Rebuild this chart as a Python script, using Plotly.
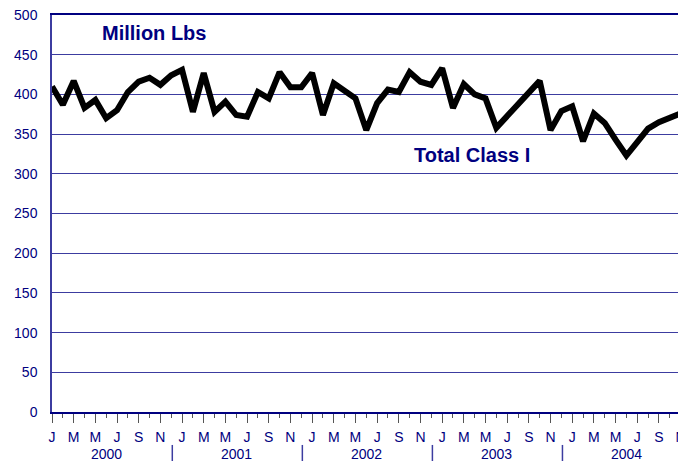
# Total Class I, million lbs, monthly 2000-2004
import plotly.graph_objects as go

years = ['2000', '2001', '2002', '2003', '2004']
month_letters = ['J', 'F', 'M', 'A', 'M', 'J', 'J', 'A', 'S', 'O', 'N', 'D']

vals_2000 = [410, 387, 417, 383, 393, 370, 380, 403, 416, 421, 412, 424]
vals_2001 = [431, 378, 427, 378, 391, 374, 372, 403, 395, 428, 409, 409]
vals_2002 = [427, 374, 414, 405, 395, 355, 389, 406, 403, 428, 416, 412]
vals_2003 = [433, 383, 413, 400, 395, 358, 373, 388, 402, 417, 355, 379]
vals_2004 = [385, 341, 376, 364, 343, 323, 340, 357, 365, 371, 376, 380]

values = vals_2000 + vals_2001 + vals_2002 + vals_2003 + vals_2004
x = list(range(len(values)))

NAVY = '#000080'
GRID = '#3c3ca0'
FONT = 'Liberation Sans, Arial, sans-serif'

# labels on every other month
tickvals = [i for i in x if i % 2 == 0]
ticktext = [month_letters[i % 12] for i in tickvals]

fig = go.Figure()
fig.add_trace(go.Scatter(
    x=x, y=values, mode='lines',
    line=dict(color='black', width=6),
    hoverinfo='y'
))

# year labels and separators under the axis
for k, yr in enumerate(years):
    fig.add_annotation(x=12 * k + 5, y=-0.106, xref='x', yref='paper',
                       yanchor='middle', text=yr, showarrow=False,
                       font=dict(size=14, color=NAVY, family=FONT))
for k in range(1, len(years)):
    fig.add_shape(type='line', xref='x', yref='paper',
                  x0=12 * k - 0.9, x1=12 * k - 0.9, y0=-0.083, y1=-0.125,
                  line=dict(color=GRID, width=1.5))

fig.add_annotation(x=0.161, y=0.955, xref='paper', yref='paper',
                   xanchor='center', yanchor='middle',
                   text='<b>Million Lbs</b>', showarrow=False,
                   font=dict(size=20, color=NAVY, family=FONT))
fig.add_annotation(x=0.662, y=0.647, xref='paper', yref='paper',
                   xanchor='center', yanchor='middle',
                   text='<b>Total Class I</b>', showarrow=False,
                   font=dict(size=20, color=NAVY, family=FONT))

# page body has an 8px margin, so the figure is a bit smaller
fig.update_layout(
    width=678, height=453,
    margin=dict(l=44, r=0, t=7, b=49),
    plot_bgcolor='white', paper_bgcolor='white',
    showlegend=False,
    font=dict(family=FONT, color=NAVY, size=14),
    xaxis=dict(
        range=[0, 58.5], automargin=False, mirror=True,
        tickmode='array', tickvals=tickvals, ticktext=ticktext,
        ticks='outside', ticklen=9, tickcolor='#555555', tickwidth=1,
        ticklabelstandoff=2,
        minor=dict(tickmode='array', tickvals=[i for i in x if i % 2 == 1],
                   ticks='outside', ticklen=4, tickcolor='#555555'),
        showgrid=False, showline=True, linecolor=NAVY, linewidth=1.5,
        zeroline=False, tickfont=dict(size=14, color=NAVY),
        ticklabeloverflow='allow',
    ),
    yaxis=dict(
        range=[0, 500], dtick=50, automargin=False,
        showgrid=True, gridcolor=GRID, gridwidth=1,
        showline=True, linecolor=GRID, linewidth=1.5,
        zeroline=False, ticks='', ticklabelstandoff=10,
        tickfont=dict(size=14, color=NAVY),
        ticklabeloverflow='allow',
    ),
)

fig.write_html('out.html')
